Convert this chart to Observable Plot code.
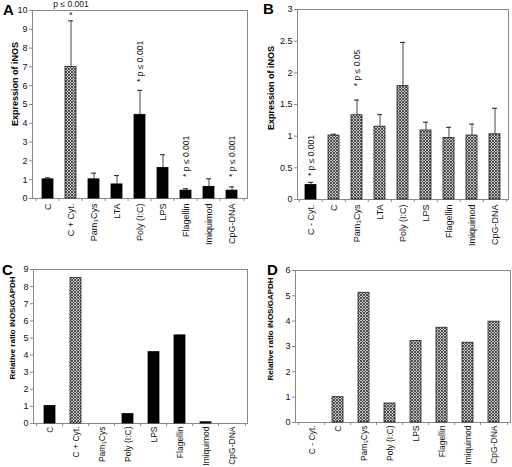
<!DOCTYPE html>
<html>
<head>
<meta charset="utf-8">
<script src="https://cdn.jsdelivr.net/npm/d3@7"></script>
<script src="https://cdn.jsdelivr.net/npm/@observablehq/plot@0.6"></script>
<style>
  html, body { margin: 0; padding: 0; background: #fff; }
  #root { position: relative; width: 512px; height: 467px; overflow: hidden; font-family: "Liberation Sans", Arial, sans-serif; }
  .panel { position: absolute; }
  .letter { position: absolute; font-weight: bold; font-size: 15px; line-height: 15px; color: #000; }
  .ytitle { position: absolute; font-weight: bold; white-space: nowrap; color: #000; line-height: 1; transform: translate(-50%, -50%) rotate(-90deg); }
</style>
</head>
<body>
<svg width="0" height="0" style="position:absolute">
  <defs>
    <pattern id="hatch" width="3" height="3" patternUnits="userSpaceOnUse">
      <rect width="3" height="3" fill="#c8c8c8"></rect>
      <path d="M0,0L3,3M3,0L0,3" stroke="#383838" stroke-width="0.85"></path>
    </pattern>
  </defs>
</svg>
<div id="root"></div>
<script>
// ---- Data ----
const catsA = ["C", "C + Cyt.", "Pam₃Cys", "LTA", "Poly (I:C)", "LPS", "Flagellin", "Imiquimod", "CpG-DNA"];
const valsA = [1.02, 7.0, 1.02, 0.75, 4.45, 1.63, 0.42, 0.62, 0.42];
const errA  = [1.1, 9.45, 1.35, 1.22, 5.75, 2.33, 0.52, 1.05, 0.62];
const hatchA = ["C + Cyt."];
const notesA = [
  {cat: "Poly (I:C)", y: 6.2, t: "* p ≤ 0.001"},
  {cat: "Flagellin", y: 1.15, t: "* p ≤ 0.001"},
  {cat: "CpG-DNA", y: 1.15, t: "* p ≤ 0.001"}
];

const catsB = ["C - Cyt.", "C", "Pam₃Cys", "LTA", "Poly (I:C)", "LPS", "Flagellin", "Imiquimod", "CpG-DNA"];
const valsB = [0.23, 1.01, 1.33, 1.15, 1.79, 1.09, 0.97, 1.01, 1.03];
const errB  = [0.27, 1.03, 1.57, 1.34, 2.48, 1.22, 1.14, 1.19, 1.44];
const hatchB = ["C", "Pam₃Cys", "LTA", "Poly (I:C)", "LPS", "Flagellin", "Imiquimod", "CpG-DNA"];
const notesB = [
  {cat: "C - Cyt.", y: 0.37, t: "* p ≤ 0.001"},
  {cat: "Pam₃Cys", y: 1.79, t: "* p ≤ 0.05"}
];

const catsC = ["C", "C + Cyt.", "Pam₃Cys", "Poly (I:C)", "LPS", "Flagellin", "Imiquimod", "CpG-DNA"];
const valsC = [1.02, 8.5, 0, 0.55, 4.17, 5.15, 0.07, 0];
const hatchC = ["C + Cyt."];

const catsD = ["C - Cyt.", "C", "Pam₃Cys", "Poly (I:C)", "LPS", "Flagellin", "Imiquimod", "CpG-DNA"];
const valsD = [0, 1.0, 5.12, 0.75, 3.22, 3.74, 3.15, 3.98];
const hatchD = ["C", "Pam₃Cys", "Poly (I:C)", "LPS", "Flagellin", "Imiquimod", "CpG-DNA"];

const ticksA = [0, 1, 2, 3, 4, 5, 6, 7, 8, 9, 10];
const ticksB = [0, 0.5, 1, 1.5, 2, 2.5, 3];
const ticksC = [0, 1, 2, 3, 4, 5, 6, 7, 8, 9];
const ticksD = [0, 1, 2, 3, 4, 5, 6];

const titleA = "Expression of iNOS";
const titleC = "Relative ratio iNOS/GAPDH";

// ---- Drawing ----
const FONT = "'Liberation Sans', Arial, Helvetica, sans-serif";
const root = document.getElementById("root");

function panel(o) {
  const {cats, vals, errs, hatched, ticks, ymax, ml, mr, mt, mb, height, pad, notes, top, fs, tp} = o;
  const width = 256;
  const n = cats.length;
  const pw = width - ml - mr;
  const ph = height - mt - mb;
  const step = pw / n;
  const bw = step * (1 - pad);
  const capInset = Math.max(0, (bw - 5) / 2);
  const data = cats.map((c, i) => ({cat: c, v: vals[i], e: errs ? errs[i] : null, h: hatched.includes(c)}));
  const tickLen = ymax * 3 / ph;
  const marks = [
    Plot.frame({stroke: "#8a8a8a", strokeWidth: 1}),
    Plot.barY(data.filter(d => !d.h && d.v > 0), {x: "cat", y: "v", fill: "#000", stroke: "#000", strokeWidth: 0.8}),
    Plot.barY(data.filter(d => d.h && d.v > 0), {x: "cat", y: "v", fill: "url(#hatch)", stroke: "#222", strokeWidth: 0.8}),
    Plot.ruleX(cats, {x: d => d, y1: 0, y2: -tickLen, dx: -step / 2, stroke: "#8a8a8a"}),
    Plot.ruleX([cats[n - 1]], {x: d => d, y1: 0, y2: -tickLen, dx: step / 2, stroke: "#8a8a8a"}),
    Plot.axisY({ticks, tickSize: 3, tickPadding: 2, fontSize: 9, stroke: "#8a8a8a", label: null, tickFormat: d => String(d)}),
    Plot.axisX({tickSize: 0, tickRotate: -90, tickPadding: tp, fontSize: fs, label: null})
  ];
  if (errs) {
    marks.push(
      Plot.ruleX(data, {x: "cat", y1: "v", y2: "e", stroke: "#333", strokeWidth: 0.9}),
      Plot.tickY(data, {x: "cat", y: "e", insetLeft: capInset, insetRight: capInset, stroke: "#333", strokeWidth: 1.1})
    );
  }
  if (notes) {
    marks.push(Plot.text(notes, {x: "cat", y: "y", text: "t", rotate: -90, textAnchor: "start", fontSize: 8.5, fill: "#111"}));
  }
  if (o.topNote) {
    marks.push(
      Plot.text([o.topNote], {x: "cat", y: d => ymax, text: d => d.t, dy: -6, fontSize: 8.5, fill: "#111"}),
      Plot.text([o.topNote], {x: "cat", y: d => ymax, text: d => "*", dy: 5, fontSize: 8.5, fill: "#111"})
    );
  }
  const chart = Plot.plot({
    width, height,
    marginLeft: ml, marginRight: mr, marginTop: mt, marginBottom: mb,
    style: {fontFamily: FONT, fontSize: "9px", color: "#111", background: "transparent", overflow: "visible"},
    x: {domain: cats, paddingInner: pad, paddingOuter: pad / 2, axis: null},
    y: {domain: [0, ymax], axis: null},
    marks
  });
  const div = document.createElement("div");
  div.className = "panel";
  div.style.left = o.left + "px";
  div.style.top = top + "px";
  div.appendChild(chart);
  root.appendChild(div);

  const t = document.createElement("div");
  t.className = "ytitle";
  t.textContent = o.title;
  t.style.fontSize = o.tfs + "px";
  t.style.left = o.tx + "px";
  t.style.top = o.ty + "px";
  root.appendChild(t);
}

panel({cats: catsA, vals: valsA, errs: errA, hatched: hatchA, ticks: ticksA, ymax: 10,
  ml: 32, mr: 9, mt: 10, mb: 52, height: 250, pad: 0.54, notes: notesA, left: 0, top: 0, fs: 9, tp: 5,
  topNote: {cat: "C + Cyt.", t: "p ≤ 0.001"}, title: titleA, tx: 15, ty: 84, tfs: 9});
panel({cats: catsB, vals: valsB, errs: errB, hatched: hatchB, ticks: ticksB, ymax: 3,
  ml: 41, mr: 4, mt: 9, mb: 51, height: 250, pad: 0.53, notes: notesB, left: 256, top: 0, fs: 9, tp: 5,
  title: titleA, tx: 271, ty: 88, tfs: 9});
panel({cats: catsC, vals: valsC, errs: null, hatched: hatchC, ticks: ticksC, ymax: 9,
  ml: 33, mr: 9, mt: 19, mb: 44, height: 217, pad: 0.59, notes: null, left: 0, top: 250, fs: 8.5, tp: 3,
  title: titleC, tx: 13, ty: 328, tfs: 8});
panel({cats: catsD, vals: valsD, errs: null, hatched: hatchD, ticks: ticksD, ymax: 6,
  ml: 39, mr: 2, mt: 20, mb: 45, height: 217, pad: 0.56, notes: null, left: 256, top: 250, fs: 8.5, tp: 3,
  title: titleC, tx: 271, ty: 329, tfs: 8});

const letters = [["A", 3, 2], ["B", 263, 1], ["C", 2, 262], ["D", 267, 262]];
for (const [t, x, y] of letters) {
  const d = document.createElement("div");
  d.className = "letter";
  d.textContent = t;
  d.style.left = x + "px";
  d.style.top = y + "px";
  root.appendChild(d);
}
</script>
</body>
</html>
